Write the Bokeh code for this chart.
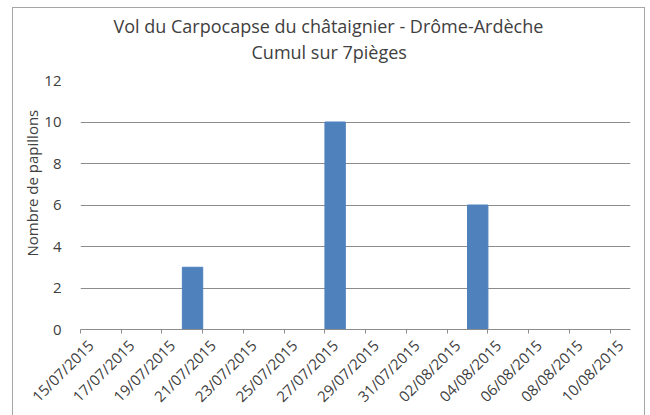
import pandas as pd
from math import pi
from bokeh.plotting import figure
from bokeh.models import Range1d, FixedTicker, LinearAxis, Title, ColumnDataSource
from bokeh.embed import file_html
from bokeh.resources import INLINE

# ---- data ----
title_line1 = "Vol du Carpocapse du châtaignier - Drôme-Ardèche"
title_line2 = "Cumul sur 7pièges"
y_title = "Nombre de papillons"
tick_labels = ["15/07/2015", "17/07/2015", "19/07/2015", "21/07/2015", "23/07/2015",
               "25/07/2015", "27/07/2015", "29/07/2015", "31/07/2015", "02/08/2015",
               "04/08/2015", "06/08/2015", "08/08/2015", "10/08/2015"]
axis_end = "11/08/2015"
obs_dates = ["20/07/2015", "27/07/2015", "03/08/2015"]
obs_counts = [3, 10, 6]
y_ticks = [0, 2, 4, 6, 8, 10, 12]

# ---- helpers ----
start = pd.to_datetime(tick_labels[0], format="%d/%m/%Y")


def day(s):
    return (pd.to_datetime(s, format="%d/%m/%Y") - start).days


tick_days = [day(s) for s in tick_labels]
bar_x = [day(s) + 0.5 for s in obs_dates]
end_day = day(axis_end)

FONT = "Open Sans"
TXT = "#404040"
GRID = "#8c8c8c"
BAR = "#4F81BD"
EDGE = "#a6a6a6"

p = figure(width=650, height=415, output_backend="svg", toolbar_location=None,
           x_range=Range1d(0, end_day), y_range=Range1d(0, y_ticks[-1]),
           x_axis_location=None,
           min_border_left=80, min_border_right=20, min_border_top=80, min_border_bottom=85)
p.extra_x_ranges = {"lab": Range1d(-0.5, end_day - 0.5)}
p.outline_line_color = None
p.border_fill_color = None
p.background_fill_color = "white"
g = "linear-gradient(%s,%s)" % (EDGE, EDGE)
p.styles = {
    "background-color": "white",
    "background-image": ", ".join([g, g, g]),
    "background-size": "1px 410px, 633px 1px, 1px 410px",
    "background-position": "12px 7px, 12px 7px, 644px 7px",
    "background-repeat": "no-repeat",
}

src = ColumnDataSource(dict(x=bar_x, top=obs_counts))
p.vbar(x="x", top="top", width=1, source=src, fill_color=BAR, line_color=BAR)

# x axis: labels centred on day slots, tick marks on slot boundaries
ax = LinearAxis(x_range_name="lab",
                ticker=FixedTicker(ticks=tick_days, minor_ticks=[d - 0.5 for d in tick_days]),
                major_label_overrides={d: s for d, s in zip(tick_days, tick_labels)})
ax.axis_line_color = GRID
ax.major_tick_line_color = None
ax.major_tick_out = 0
ax.major_tick_in = 0
ax.minor_tick_line_color = GRID
ax.minor_tick_out = 4
ax.minor_tick_in = 0
ax.major_label_orientation = pi / 4
ax.major_label_standoff = 9
ax.major_label_text_font = FONT
ax.major_label_text_font_size = "15px"
ax.major_label_text_color = TXT
p.add_layout(ax, "below")

# y axis
p.yaxis.ticker = FixedTicker(ticks=y_ticks)
p.yaxis.axis_line_color = None
p.yaxis.major_tick_line_color = None
p.yaxis.major_tick_out = 0
p.yaxis.minor_tick_line_color = None
p.yaxis.major_label_standoff = 19
p.yaxis.major_label_text_font = FONT
p.yaxis.major_label_text_font_size = "15px"
p.yaxis.major_label_text_color = TXT

p.xgrid.visible = False
p.ygrid.ticker = FixedTicker(ticks=y_ticks)
p.ygrid.grid_line_color = GRID

# titles (first added sits nearest the frame)
p.add_layout(Title(text=" ", text_font_size="12px", standoff=1), "above")
p.add_layout(Title(text=title_line2, align="left", offset=171, standoff=0,
                   text_font=FONT, text_font_size="18px", text_font_style="normal",
                   text_color=TXT), "above")
p.add_layout(Title(text=title_line1, align="left", offset=33, standoff=0,
                   text_font=FONT, text_font_size="18px", text_font_style="normal",
                   text_color=TXT), "above")
p.add_layout(Title(text=y_title, align="left", offset=73, standoff=0, vertical_align="bottom",
                   text_font=FONT, text_font_size="15px", text_font_style="normal",
                   text_color=TXT), "left")

open("out.html", "w").write(file_html(p, INLINE))
